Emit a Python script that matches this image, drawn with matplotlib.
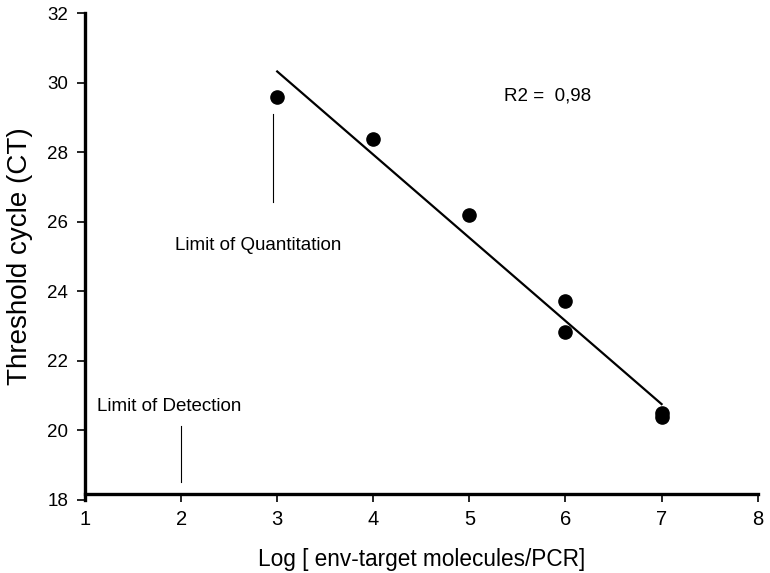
import numpy as np
import matplotlib
matplotlib.use("Agg")
import matplotlib.pyplot as plt
from matplotlib import font_manager

plt.rcParams['font.family'] = ['Liberation Sans', 'DejaVu Sans']
names = {f.name for f in font_manager.fontManager.ttflist}
tick_family = ['Liberation Sans Narrow', 'Liberation Sans'] if 'Liberation Sans Narrow' in names else ['Liberation Sans']

# Data
log_molecules = [3, 4, 5, 6, 6, 7, 7]
ct_values = [29.6, 28.37, 26.2, 23.72, 22.84, 20.5, 20.38]
x_ticks = [1, 2, 3, 4, 5, 6, 7, 8]
y_ticks = [18, 20, 22, 24, 26, 28, 30, 32]
r2_label = "R2 =  0,98"

fig = plt.figure(figsize=(7.70, 5.73), dpi=100)
ax = fig.add_axes([0.1104, 0.1274, 0.984 - 0.1104, 0.977 - 0.1274])

ax.set_xlim(1, 8)
ax.set_ylim(18, 32)

# Regression line
slope, intercept = np.polyfit(log_molecules, ct_values, 1)
xr = np.array([min(log_molecules), max(log_molecules)])
ax.plot(xr, slope * xr + intercept, color='black', lw=1.6, zorder=2)

ax.plot(log_molecules, ct_values, 'o', color='black', markersize=9.5, zorder=3)

# Annotations
ax.plot([2.96, 2.96], [26.56, 29.09], color='black', lw=0.8)
ax.text(2.80, 25.31, "Limit of Quantitation", ha='center', va='center', fontsize=13.5)
ax.plot([2.0, 2.0], [18.51, 20.14], color='black', lw=0.8)
ax.text(1.88, 20.69, "Limit of Detection", ha='center', va='center', fontsize=13.5)
ax.text(5.36, 29.62, r2_label, ha='left', va='center', fontsize=13.5)

# Axes styling
for s in ['top', 'right']:
    ax.spines[s].set_visible(False)
ax.spines['left'].set_linewidth(2.4)
ax.spines['bottom'].set_linewidth(2.4)
ax.spines['bottom'].set_position(('data', 18.18))

ax.set_xticks(x_ticks)
ax.set_yticks(y_ticks)
ax.tick_params(axis='both', direction='out', length=6, width=1.2, pad=6)
for lab in ax.get_xticklabels():
    lab.set_family(tick_family)
    lab.set_fontsize(14.5)
for lab in ax.get_yticklabels():
    lab.set_family(tick_family)
    lab.set_fontsize(13.5)

ax.set_xlabel("Log [ env-target molecules/PCR]", fontsize=16.3, labelpad=13.5)
ax.set_ylabel("Threshold cycle (CT)", fontsize=20, labelpad=10)

fig.savefig("out.png", dpi=100)
